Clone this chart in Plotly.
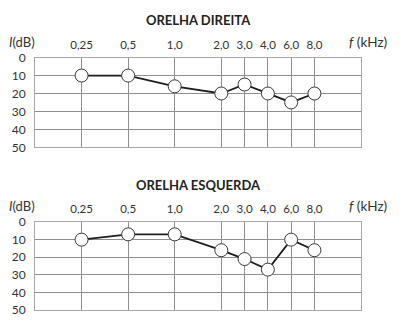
import math
import plotly.graph_objects as go

# ---- data ----
freqs_khz = [0.25, 0.5, 1.0, 2.0, 3.0, 4.0, 6.0, 8.0]
freq_labels = ["0,25", "0,5", "1,0", "2,0", "3,0", "4,0", "6,0", "8,0"]
db_ticks = [0, 10, 20, 30, 40, 50]
direita_db = [10, 10, 16, 20, 15, 20, 25, 20]
esquerda_db = [10, 7, 7, 16, 21, 27, 10, 16]
titles = ["ORELHA DIREITA", "ORELHA ESQUERDA"]


def audiogram_pos(f):
    """Audiogram scale: octaves from 0.25 kHz; inter-octave frequencies drawn half-way."""
    octv = math.log2(f / 0.25)
    base = math.floor(octv + 1e-9)
    return base + (0.5 if octv - base > 1e-6 else 0.0)


xpos = [audiogram_pos(f) for f in freqs_khz]

W, H = 400, 327
FONT = "Lato"
TXT = "#333333"
GRID = "#8f8f8f"
BORDER = "#a8a8a8"

fig = go.Figure()

panels = [
    dict(vals=direita_db, box=(52, 146), title_y=13, lab_y=36),
    dict(vals=esquerda_db, box=(224.3, 316.7), title_y=185, lab_y=208),
]

x_dom = [35 / W, 361 / W]

for i, p in enumerate(panels):
    n = "" if i == 0 else str(i + 1)
    top, bot = p["box"]
    fig.add_trace(go.Scatter(
        x=xpos, y=p["vals"], mode="lines+markers",
        line=dict(color="#1e1e1e", width=1.8),
        marker=dict(size=13, color="white", line=dict(color="#3a3a3a", width=1)),
        xaxis="x" + n, yaxis="y" + n, showlegend=False, cliponaxis=False,
    ))
    fig.layout["xaxis" + n] = dict(
        domain=x_dom, anchor="y" + n, range=[-1, 6], side="top",
        tickmode="array", tickvals=xpos, ticktext=freq_labels,
        showgrid=True, gridcolor=GRID, gridwidth=1, zeroline=False,
        showline=True, linecolor=BORDER, linewidth=1, mirror=True,
        ticks="", ticklabelstandoff=3,
        tickfont=dict(family=FONT, size=11.5, color=TXT),
    )
    fig.layout["yaxis" + n] = dict(
        domain=[1 - bot / H, 1 - top / H], anchor="x" + n, range=[50, 0],
        tickmode="array", tickvals=db_ticks,
        showgrid=True, gridcolor=GRID, gridwidth=1, zeroline=False,
        showline=True, linecolor=BORDER, linewidth=1, mirror=True,
        ticks="", ticklabelstandoff=6,
        tickfont=dict(family=FONT, size=12, color=TXT),
    )
    fig.add_annotation(
        text="<b>" + titles[i] + "</b>", xref="paper", yref="paper",
        x=198 / W, y=1 - p["title_y"] / H, xanchor="center", yanchor="middle",
        showarrow=False, font=dict(family=FONT, size=13, color="#222222"),
    )
    fig.add_annotation(
        text="<i>I</i>(dB)",
        xref="paper", yref="paper", x=7 / W, y=1 - p["lab_y"] / H,
        xanchor="left", yanchor="middle", showarrow=False,
        font=dict(family=FONT, size=13, color=TXT),
    )
    fig.add_annotation(
        text="<i>f</i> (kHz)",
        xref="paper", yref="paper", x=389 / W, y=1 - p["lab_y"] / H,
        xanchor="right", yanchor="middle", showarrow=False,
        font=dict(family=FONT, size=13.5, color=TXT),
    )

fig.update_layout(
    width=W, height=H, margin=dict(l=0, r=0, t=0, b=0),
    paper_bgcolor="white", plot_bgcolor="white",
)

fig.write_html("out.html")
